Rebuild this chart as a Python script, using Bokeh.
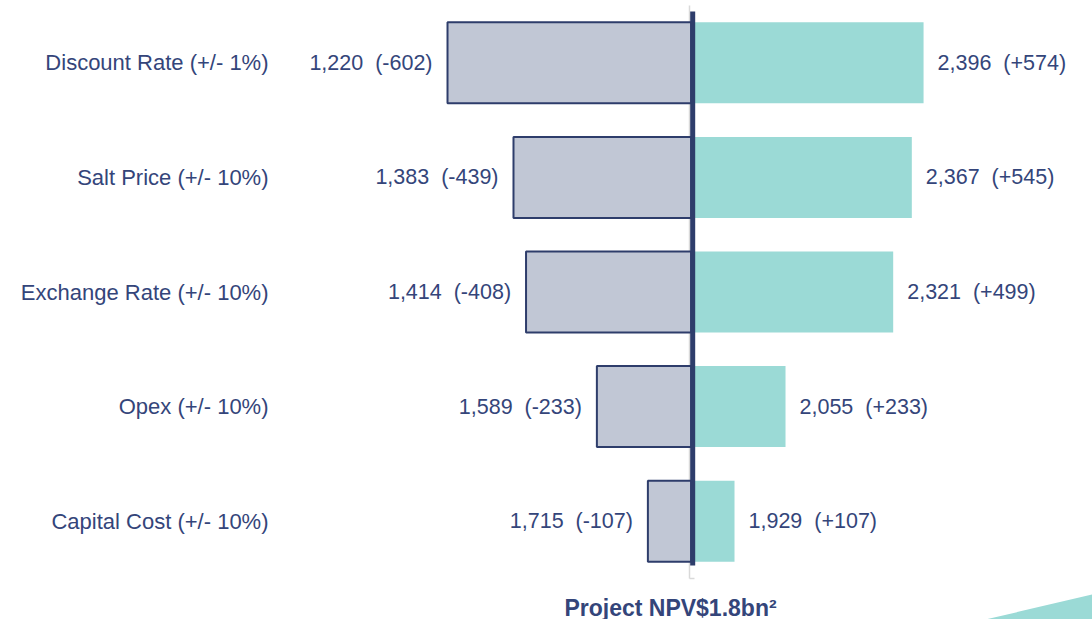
from bokeh.plotting import figure
from bokeh.models import Range1d, ColumnDataSource
from bokeh.embed import file_html
from bokeh.resources import INLINE
from bokeh.core.properties import value

categories = ["Discount Rate (+/- 1%)", "Salt Price (+/- 10%)", "Exchange Rate (+/- 10%)",
              "Opex (+/- 10%)", "Capital Cost (+/- 10%)"]
low_values = [1220, 1383, 1414, 1589, 1715]
high_values = [2396, 2367, 2321, 2055, 1929]
base_npv = 1822
footer = "Project NPV$1.8bn\u00b2"

W, H = 1092, 619
PX_PER_UNIT = 0.4048
X_AT_BASE = 690.7
x0 = base_npv - X_AT_BASE / PX_PER_UNIT
x1 = base_npv + (W - X_AT_BASE) / PX_PER_UNIT
ROW = 114.6
TOP = 5
y_top = -TOP / ROW
y_bot = (H - TOP) / ROW

def px_x(px):
    return x0 + px / PX_PER_UNIT

def px_y(py):
    return (py - TOP) / ROW

NAVY = "#2E3D6B"
TEXT = "#34457A"
GRAY = "#C1C7D5"
TEAL = "#9BDAD6"
FONT = value("Liberation Sans")
SP = "\u00a0\u00a0"

p = figure(width=W, height=H, x_range=Range1d(x0, x1), y_range=Range1d(y_bot, y_top),
           min_border=0, toolbar_location=None, output_backend="svg",
           outline_line_color=None, background_fill_color="white", border_fill_color="white")
p.axis.visible = False
p.grid.visible = False

ys = [i + 0.5 for i in range(len(categories))]
low_lab = [f"{v:,}{SP}(-{base_npv - v})" for v in low_values]
high_lab = [f"{v:,}{SP}(+{v - base_npv})" for v in high_values]
src = ColumnDataSource(dict(y=ys, cat=categories, low=low_values, high=high_values,
                            base=[base_npv] * len(ys), low_lab=low_lab, high_lab=high_lab,
                            catx=[px_x(268)] * len(ys)))

# light gray category axis
p.segment(x0=[px_x(689)], y0=[0], x1=[px_x(689)], y1=[len(categories)],
          line_color="#D9D9D9", line_width=1.5)
p.segment(x0=[px_x(685.5)] * len(ys), y0=ys, x1=[px_x(689)] * len(ys), y1=ys,
          line_color="#D9D9D9", line_width=1.5)
p.segment(x0=[px_x(689)], y0=[len(categories)], x1=[px_x(694)], y1=[len(categories)],
          line_color="#D9D9D9", line_width=1.5)

p.hbar(y="y", left="low", right="base", height=0.707, source=src,
       fill_color=GRAY, line_color=NAVY, line_width=2)
p.hbar(y="y", left="base", right="high", height=0.707, source=src,
       fill_color=TEAL, line_color=None)

p.segment(x0=[px_x(692.2)], y0=[px_y(11)], x1=[px_x(692.2)], y1=[px_y(565)],
          line_color=NAVY, line_width=5)

p.text(x="low", y="y", text="low_lab", source=src, text_align="right", text_baseline="middle",
       x_offset=-15, text_font=FONT, text_font_size="21.5px", text_color=TEXT)
p.text(x="high", y="y", text="high_lab", source=src, text_align="left", text_baseline="middle",
       x_offset=14, text_font=FONT, text_font_size="21.5px", text_color=TEXT)
p.text(x="catx", y="y", text="cat", source=src, text_align="right", text_baseline="middle",
       text_font=FONT, text_font_size="22px", text_color=TEXT)

p.text(x=[px_x(670)], y=[px_y(607)], text=[footer], text_align="center", text_baseline="middle",
       text_font=FONT, text_font_size="23px", text_font_style="bold", text_color=TEXT)

p.patch(x=[px_x(985), px_x(1092), px_x(1092)], y=[px_y(619), px_y(594), px_y(619)],
        fill_color=TEAL, line_color=None)

open("out.html", "w").write(file_html(p, INLINE))
